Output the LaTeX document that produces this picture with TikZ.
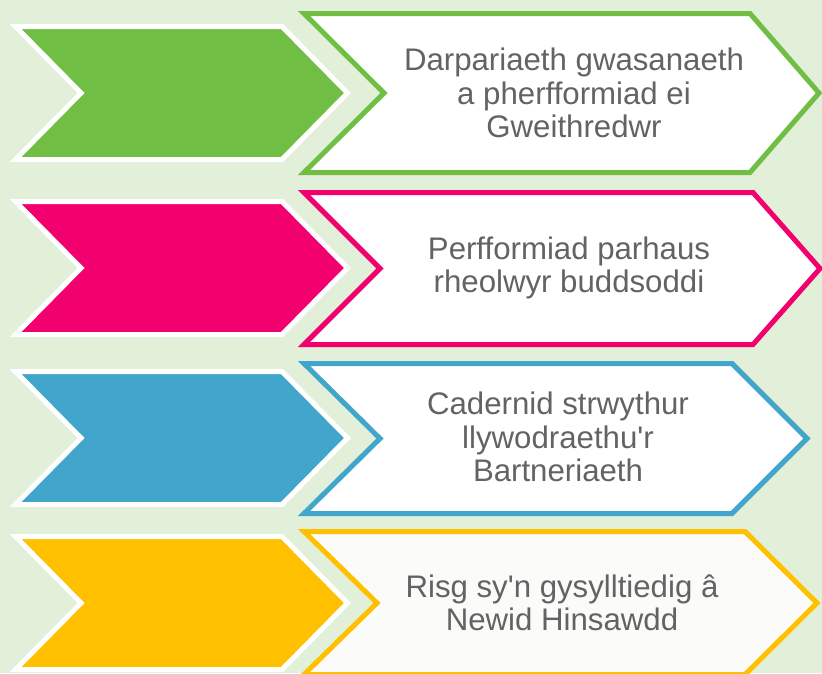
\documentclass[tikz,border=0pt]{standalone}
\usepackage{fontspec}
\setmainfont{Liberation Sans}
\definecolor{bgGreen}{HTML}{E2EFD9}
\definecolor{arrGreen}{HTML}{70BF44}
\definecolor{arrPink}{HTML}{F2006E}
\definecolor{arrBlue}{HTML}{42A6CC}
\definecolor{arrYellow}{HTML}{FFC000}
\definecolor{txtGray}{HTML}{636363}
\definecolor{paleFill}{HTML}{FBFBF9}

\begin{document}
\begin{tikzpicture}[x=1pt,y=-1pt,
	desc/.style={align=center,text=txtGray,font=\fontsize{31.2}{33.5}\selectfont}]
	\useasboundingbox (0,0) rectangle (822,673);
	\fill[bgGreen] (0,0) rectangle (822,673);
	% filled chevrons on the left
	\foreach \y/\c in {93/arrGreen,268/arrPink,438/arrBlue,603/arrYellow}
		\draw[white,line width=5pt,fill=\c] (15.5,\y-66.5) -- (282,\y-66.5) -- (347.5,\y) -- (282,\y+66.5) -- (15.5,\y+66.5) -- (81,\y) -- cycle;
	% outlined arrows on the right
	\foreach \y/\h/\n/\r/\t/\c/\f in {93/79.5/384/750/819/arrGreen/white,268.5/76/380/753/820/arrPink/white,438.5/75/380/732/807/arrBlue/white,603/71.5/377/745/817/arrYellow/paleFill}
		\draw[\c,line width=5pt,fill=\f] (304,\y-\h) -- (\r,\y-\h) -- (\t,\y) -- (\r,\y+\h) -- (304,\y+\h) -- (\n,\y) -- cycle;
	\node[desc] (descA) at (574,93) {Darpariaeth gwasanaeth\\a pherfformiad ei\\Gweithredwr};
	\node[desc] (descB) at (569,268) {Perfformiad parhaus\\rheolwyr buddsoddi};
	\node[desc] (descC) at (558,437) {Cadernid strwythur\\llywodraethu\textquotesingle r\\Bartneriaeth};
	\node[desc] (descD) at (562,603) {Risg sy\textquotesingle n gysylltiedig â\\Newid Hinsawdd};
\end{tikzpicture}
\end{document}
